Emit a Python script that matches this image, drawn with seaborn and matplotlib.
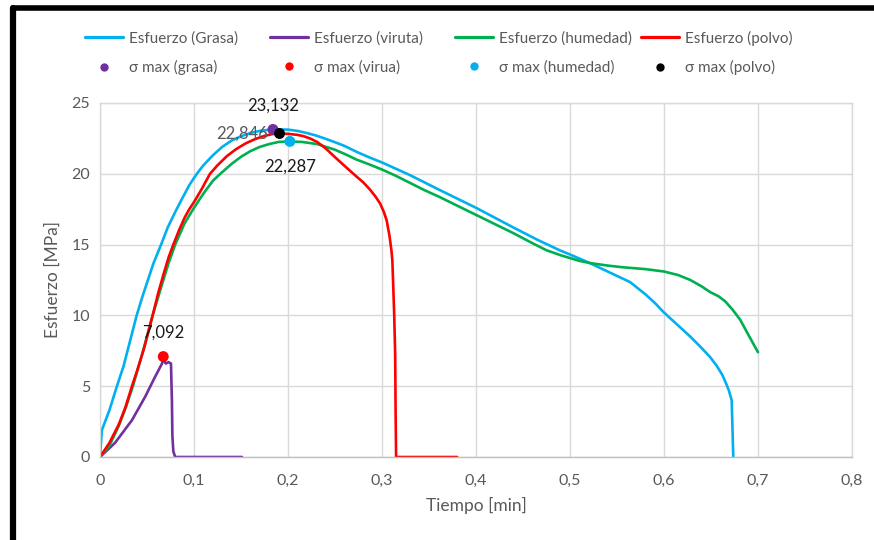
import numpy as np
import pandas as pd
import matplotlib
matplotlib.use("Agg")
import matplotlib.pyplot as plt
from matplotlib.lines import Line2D
import seaborn as sns

# ---- stress curves (time in min, stress in MPa) ----
t_grasa = [0, 0.002, 0.01, 0.018, 0.025, 0.032, 0.039, 0.045, 0.05, 0.057,
           0.065, 0.072, 0.08, 0.087, 0.095, 0.103, 0.11, 0.12, 0.13, 0.14,
           0.15, 0.16, 0.17, 0.18, 0.19, 0.20, 0.21, 0.22, 0.23, 0.24, 0.25,
           0.26, 0.273, 0.285, 0.30, 0.315, 0.33, 0.345, 0.36, 0.38, 0.40,
           0.42, 0.44, 0.465, 0.489, 0.50, 0.521, 0.54, 0.564, 0.58, 0.59,
           0.60, 0.614, 0.628, 0.64, 0.649, 0.656, 0.662, 0.666, 0.669, 0.672,
           0.6737]
s_grasa = [0, 1.9, 3.3, 5.0, 6.4, 8.2, 10.0, 11.3, 12.3, 13.7,
           15.0, 16.2, 17.3, 18.2, 19.2, 20.0, 20.6, 21.3, 21.9, 22.35,
           22.65, 22.88, 23.03, 23.11, 23.132, 23.12, 23.03, 22.88, 22.7, 22.47, 22.23,
           21.97, 21.55, 21.2, 20.8, 20.35, 19.9, 19.4, 18.9, 18.25, 17.6,
           16.9, 16.2, 15.35, 14.6, 14.3, 13.7, 13.1, 12.35, 11.5, 10.9,
           10.2, 9.35, 8.5, 7.7, 7.06, 6.45, 5.8, 5.2, 4.7, 4.0,
           0]

t_viruta = [0, 0.016, 0.025, 0.034, 0.048, 0.0585, 0.066, 0.0673, 0.069, 0.070,
            0.073, 0.0755, 0.0765, 0.077, 0.078, 0.08, 0.151]
s_viruta = [0, 1.0, 1.8, 2.6, 4.25, 5.65, 6.6, 7.092, 6.7, 6.6,
            6.7, 6.6, 4.0, 1.5, 0.4, 0, 0]

t_humedad = [0, 0.01, 0.02, 0.028, 0.035, 0.045, 0.056, 0.066, 0.073, 0.08,
             0.09, 0.10, 0.11, 0.12, 0.128, 0.14, 0.15, 0.16, 0.17, 0.18,
             0.19, 0.20, 0.215, 0.231, 0.25, 0.262, 0.273, 0.287, 0.30, 0.315,
             0.33, 0.345, 0.36, 0.38, 0.40, 0.42, 0.44, 0.46, 0.475, 0.49,
             0.50, 0.51, 0.521, 0.54, 0.556, 0.58, 0.60, 0.615, 0.628, 0.64,
             0.649, 0.658, 0.665, 0.673, 0.681, 0.69, 0.70]
s_humedad = [0, 0.8, 2.2, 3.6, 5.0, 7.3, 10.0, 12.2, 13.7, 15.0,
             16.5, 17.6, 18.6, 19.5, 20.0, 20.7, 21.2, 21.6, 21.9, 22.1,
             22.25, 22.287, 22.25, 22.1, 21.7, 21.35, 21.0, 20.65, 20.3, 19.85,
             19.35, 18.85, 18.4, 17.75, 17.1, 16.45, 15.8, 15.1, 14.6, 14.25,
             14.05, 13.85, 13.7, 13.52, 13.4, 13.27, 13.1, 12.85, 12.5, 12.05,
             11.65, 11.35, 11.0, 10.4, 9.7, 8.6, 7.4]

t_polvo = [0, 0.01, 0.02, 0.027, 0.034, 0.04, 0.047, 0.056, 0.062, 0.068,
           0.073, 0.078, 0.084, 0.09, 0.095, 0.10, 0.108, 0.117, 0.125, 0.135,
           0.145, 0.155, 0.165, 0.175, 0.183, 0.19, 0.20, 0.21, 0.217, 0.224,
           0.231, 0.24, 0.252, 0.262, 0.273, 0.28, 0.287, 0.293, 0.298, 0.302,
           0.305, 0.308, 0.310, 0.311, 0.312, 0.313, 0.314, 0.3145, 0.315, 0.38]
s_polvo = [0, 1.0, 2.3, 3.5, 5.0, 6.2, 7.7, 10.0, 11.6, 13.0,
           14.1, 15.0, 16.0, 16.9, 17.5, 18.0, 18.9, 20.0, 20.6, 21.25,
           21.75, 22.15, 22.45, 22.68, 22.8, 22.846, 22.82, 22.75, 22.65, 22.48,
           22.25, 21.8, 21.05, 20.45, 19.8, 19.4, 18.9, 18.4, 17.9, 17.3,
           16.7, 15.6, 14.6, 13.9, 12.0, 10.0, 7.3, 3.0, 0, 0]

curve_names = ["Esfuerzo (Grasa)", "Esfuerzo (viruta)",
               "Esfuerzo (humedad)", "Esfuerzo (polvo)"]
curve_colors = ["#00b0f0", "#7030a0", "#00b050", "#ff0000"]

# ---- maximum-stress points ----
max_names = ["σ max (grasa)", "σ max (virua)", "σ max (humedad)", "σ max (polvo)"]
max_t = [0.184, 0.0673, 0.202, 0.191]
max_s = [23.132, 7.092, 22.287, 22.846]
max_text = ["23,132", "7,092", "22,287", "22,846"]
max_colors = ["#7030a0", "#ff0000", "#00b0f0", "#000000"]

x_ticks = [0, 0.1, 0.2, 0.3, 0.4, 0.5, 0.6, 0.7, 0.8]
x_ticklabels = ["0", "0,1", "0,2", "0,3", "0,4", "0,5", "0,6", "0,7", "0,8"]
y_ticks = [0, 5, 10, 15, 20, 25]
y_ticklabels = ["0", "5", "10", "15", "20", "25"]

sns.set_theme(style="white")
plt.rcParams["font.family"] = ["Lato", "DejaVu Sans"]

W, H = 874, 540
fig = plt.figure(figsize=(W / 100, H / 100), dpi=100)
ax = fig.add_axes([100 / W, 1 - 457 / H, 752 / W, 354 / H])

frames = []
for name, t, s in zip(curve_names,
                      [t_grasa, t_viruta, t_humedad, t_polvo],
                      [s_grasa, s_viruta, s_humedad, s_polvo]):
    frames.append(pd.DataFrame({"t": t, "s": s, "serie": name}))
curves = pd.concat(frames, ignore_index=True)

sns.lineplot(data=curves, x="t", y="s", hue="serie", hue_order=curve_names,
             palette=curve_colors, sort=False, estimator=None, linewidth=1.9,
             legend=False, ax=ax)

maxima = pd.DataFrame({"t": max_t, "s": max_s, "marca": max_names})
sns.scatterplot(data=maxima, x="t", y="s", hue="marca", hue_order=max_names,
                palette=max_colors, s=62, edgecolor="none", legend=False,
                zorder=5, ax=ax)

# value labels next to the maxima
label_offsets = [(0, 17), (0, 17), (0, -18), (-27, 0)]
label_colors = ["#1a1a1a", "#1a1a1a", "#1a1a1a", "#595959"]
for t, s, txt, off, col in zip(max_t, max_s, max_text, label_offsets, label_colors):
    ax.annotate(txt, (t, s), xytext=off, textcoords="offset points",
                ha="center", va="center", fontsize=12, color=col, zorder=6)

ax.set_xlim(0, 0.8)
ax.set_ylim(0, 25)
ax.set_xticks(x_ticks)
ax.set_xticklabels(x_ticklabels)
ax.set_yticks(y_ticks)
ax.set_yticklabels(y_ticklabels)
ax.grid(True, color="#d9d9d9", linewidth=1.0)
ax.set_axisbelow(True)
for sp in ax.spines.values():
    sp.set_color("#d9d9d9")
    sp.set_linewidth(1.0)
ax.spines["bottom"].set_color("#bfbfbf")
ax.tick_params(axis="both", length=0, labelsize=11.5, colors="#595959")
ax.tick_params(axis="x", pad=12)
ax.tick_params(axis="y", pad=7)
ax.set_xlabel("Tiempo [min]", fontsize=12.5, color="#595959", labelpad=7)
ax.set_ylabel("Esfuerzo [MPa]", fontsize=12.5, color="#595959", labelpad=8)

# legend: four columns, curve on top and maximum marker below
col_x = [85, 270, 455, 641]
for name, col, mname, mcol, x0 in zip(curve_names, curve_colors,
                                      max_names, max_colors, col_x):
    handles = [Line2D([], [], color=col, linewidth=2.3),
               Line2D([], [], color=mcol, marker="o", linestyle="none",
                      markersize=6, markeredgewidth=0)]
    fig.legend(handles, [name, mname], loc="center left",
               bbox_to_anchor=(x0 / W, 1 - 53 / H), frameon=False,
               fontsize=11, labelcolor="#595959", handlelength=2.5,
               handletextpad=0.35, labelspacing=0.95, borderpad=0,
               borderaxespad=0)

# black border on the left and top edges
fig.add_artist(Line2D([13 / W, 13 / W], [0, 1 - 8 / H], color="black",
                      linewidth=4.5, transform=fig.transFigure,
                      solid_capstyle="round"))
fig.add_artist(Line2D([13 / W, 1.0], [1 - 8 / H, 1 - 8 / H], color="black",
                      linewidth=4.0, transform=fig.transFigure,
                      solid_capstyle="round"))

fig.savefig("out.png", dpi=100)
